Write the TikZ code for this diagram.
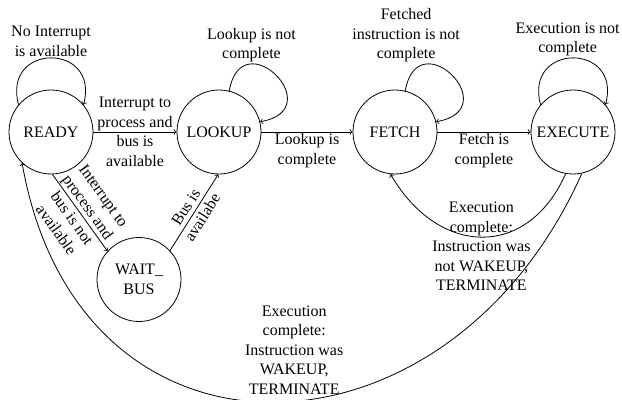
\documentclass[tikz,border=0pt]{standalone}
\usepackage{fontspec}
\setmainfont{Liberation Serif}
\usetikzlibrary{arrows}

\begin{document}
\fontsize{12}{14.6}\selectfont
\begin{tikzpicture}
  [
    x=0.75pt, y=0.75pt,
    state/.style={circle, draw, line width=0.6pt, minimum size=63pt, inner sep=0pt, align=center},
    trans/.style={->, line width=0.6pt},
    cond/.style={align=center, inner sep=1pt}
  ]
  \useasboundingbox (0,0) rectangle (622,400);
  % states
  \node [state] (ready) at (51,268) {READY};
  \node [state] (lookup) at (219,268) {LOOKUP};
  \node [state] (fetch) at (395,268) {FETCH};
  \node [state] (execute) at (573,268) {EXECUTE};
  \node [state] (waitbus) at (139,120.5) {WAIT\_\\BUS};
  % self loops
  \draw [trans] (ready.140) to [out=105,in=75,looseness=2.55]
    node [cond, above] {No Interrupt\\is available} (ready.40);
  \draw [trans] (lookup.76) to [out=80,in=10,looseness=4.2]
    node [cond, above, pos=0.27] {Lookup is not\\complete} (lookup.14);
  \draw [trans] (fetch.76) to [out=80,in=10,looseness=4.2]
    node [cond, above, pos=0.27, xshift=-16pt] {Fetched\\instruction is not\\complete} (fetch.14);
  \draw [trans] (execute.140) to [out=105,in=75,looseness=2.55]
    node [cond, above, xshift=-4pt] {Execution is not\\complete} (execute.40);
  % forward path
  \draw [trans] (ready) -- node [cond] {Interrupt to\\process and\\bus is\\available} (lookup);
  \draw [trans] (lookup) -- node [cond, below] {Lookup is\\complete} (fetch);
  \draw [trans] (fetch) -- node [cond, below] {Fetch is\\complete} (execute);
  % waiting for the bus
  \draw [trans] (ready.-88) -- node [cond, sloped] {Interrupt to\\process and\\bus is not\\available} (waitbus.138);
  \draw [trans] (waitbus.43) -- node [cond, sloped] {Bus is\\availabe} (lookup.-91);
  % back edges
  \draw [trans] (execute.-100) to [out=-114,in=-60,looseness=1.38]
    node [cond, pos=0.5, yshift=-7pt] {Execution\\complete:\\Instruction was\\not WAKEUP,\\TERMINATE} (fetch.-96);
  \draw [trans] (execute.-78) to [out=-114,in=-80,looseness=1.5]
    node [cond, above=4pt, pos=0.47] {Execution\\complete:\\Instruction was\\WAKEUP,\\TERMINATE} (ready.-133);
\end{tikzpicture}
\end{document}
